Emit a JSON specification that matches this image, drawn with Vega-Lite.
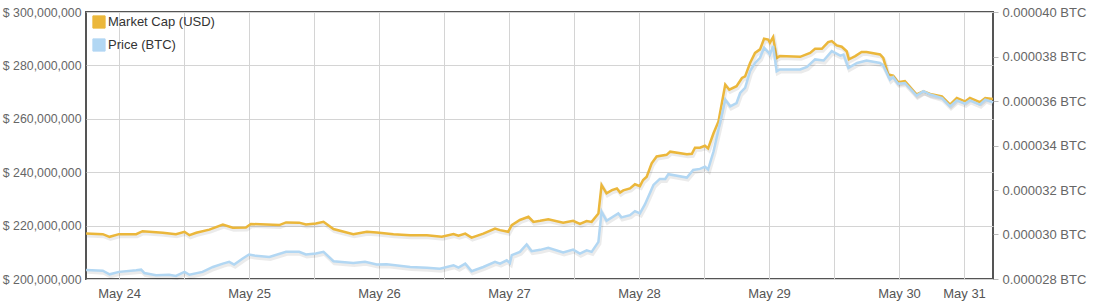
{
  "$schema": "https://vega.github.io/schema/vega-lite/v6.json",
  "width": 907,
  "height": 267,
  "autosize": "none",
  "padding": {"left": 86, "top": 12, "right": 113, "bottom": 23},
  "background": "white",
  "config": {
    "view": {"stroke": "#555555", "strokeWidth": 2},
    "font": "Liberation Sans",
    "axis": {"labelFont": "Liberation Sans", "labelFontSize": 13, "labelColor": "#666666", "domain": false, "gridColor": "#d4d4d4", "gridWidth": 1}
  },
  "datasets": {
    "usd": [
      {"t": "2014-05-23T17:55:00Z", "v": 217000000},
      {"t": "2014-05-23T21:00:00Z", "v": 216800000},
      {"t": "2014-05-23T22:15:00Z", "v": 215800000},
      {"t": "2014-05-24T00:00:00Z", "v": 216800000},
      {"t": "2014-05-24T03:10:00Z", "v": 216800000},
      {"t": "2014-05-24T04:20:00Z", "v": 217900000},
      {"t": "2014-05-24T08:05:00Z", "v": 217300000},
      {"t": "2014-05-24T10:30:00Z", "v": 216800000},
      {"t": "2014-05-24T12:05:00Z", "v": 217700000},
      {"t": "2014-05-24T13:00:00Z", "v": 216400000},
      {"t": "2014-05-24T14:15:00Z", "v": 217300000},
      {"t": "2014-05-24T16:40:00Z", "v": 218500000},
      {"t": "2014-05-24T19:10:00Z", "v": 220400000},
      {"t": "2014-05-24T21:00:00Z", "v": 219200000},
      {"t": "2014-05-24T23:25:00Z", "v": 219300000},
      {"t": "2014-05-25T00:20:00Z", "v": 220600000},
      {"t": "2014-05-25T05:35:00Z", "v": 220200000},
      {"t": "2014-05-25T06:50:00Z", "v": 221200000},
      {"t": "2014-05-25T09:15:00Z", "v": 221100000},
      {"t": "2014-05-25T10:30:00Z", "v": 220400000},
      {"t": "2014-05-25T12:20:00Z", "v": 220800000},
      {"t": "2014-05-25T13:45:00Z", "v": 221400000},
      {"t": "2014-05-25T15:35:00Z", "v": 218700000},
      {"t": "2014-05-25T19:15:00Z", "v": 216800000},
      {"t": "2014-05-25T21:45:00Z", "v": 217700000},
      {"t": "2014-05-25T23:35:00Z", "v": 217400000},
      {"t": "2014-05-26T02:40:00Z", "v": 216800000},
      {"t": "2014-05-26T05:45:00Z", "v": 216400000},
      {"t": "2014-05-26T08:50:00Z", "v": 216400000},
      {"t": "2014-05-26T11:35:00Z", "v": 215800000},
      {"t": "2014-05-26T13:45:00Z", "v": 216800000},
      {"t": "2014-05-26T14:40:00Z", "v": 216200000},
      {"t": "2014-05-26T15:55:00Z", "v": 217000000},
      {"t": "2014-05-26T17:05:00Z", "v": 215500000},
      {"t": "2014-05-26T19:15:00Z", "v": 217000000},
      {"t": "2014-05-26T21:25:00Z", "v": 218900000},
      {"t": "2014-05-26T22:20:00Z", "v": 218300000},
      {"t": "2014-05-26T23:50:00Z", "v": 217700000},
      {"t": "2014-05-27T00:30:00Z", "v": 220200000},
      {"t": "2014-05-27T02:00:00Z", "v": 222100000},
      {"t": "2014-05-27T03:35:00Z", "v": 223300000},
      {"t": "2014-05-27T04:30:00Z", "v": 221400000},
      {"t": "2014-05-27T05:45:00Z", "v": 221800000},
      {"t": "2014-05-27T07:15:00Z", "v": 222400000},
      {"t": "2014-05-27T10:00:00Z", "v": 221100000},
      {"t": "2014-05-27T11:50:00Z", "v": 221800000},
      {"t": "2014-05-27T13:05:00Z", "v": 220600000},
      {"t": "2014-05-27T14:20:00Z", "v": 221700000},
      {"t": "2014-05-27T15:15:00Z", "v": 221400000},
      {"t": "2014-05-27T16:30:00Z", "v": 224500000},
      {"t": "2014-05-27T17:05:00Z", "v": 235200000},
      {"t": "2014-05-27T18:00:00Z", "v": 232100000},
      {"t": "2014-05-27T19:00:00Z", "v": 233300000},
      {"t": "2014-05-27T19:55:00Z", "v": 233900000},
      {"t": "2014-05-27T20:30:00Z", "v": 232400000},
      {"t": "2014-05-27T21:05:00Z", "v": 233200000},
      {"t": "2014-05-27T22:20:00Z", "v": 233900000},
      {"t": "2014-05-27T23:15:00Z", "v": 235500000},
      {"t": "2014-05-28T00:10:00Z", "v": 234800000},
      {"t": "2014-05-28T00:45:00Z", "v": 237100000},
      {"t": "2014-05-28T01:25:00Z", "v": 238300000},
      {"t": "2014-05-28T02:20:00Z", "v": 243300000},
      {"t": "2014-05-28T03:15:00Z", "v": 245900000},
      {"t": "2014-05-28T05:05:00Z", "v": 246500000},
      {"t": "2014-05-28T05:45:00Z", "v": 247700000},
      {"t": "2014-05-28T08:50:00Z", "v": 246700000},
      {"t": "2014-05-28T09:45:00Z", "v": 246900000},
      {"t": "2014-05-28T10:20:00Z", "v": 249200000},
      {"t": "2014-05-28T11:15:00Z", "v": 249200000},
      {"t": "2014-05-28T12:10:00Z", "v": 249900000},
      {"t": "2014-05-28T12:45:00Z", "v": 248900000},
      {"t": "2014-05-28T13:45:00Z", "v": 254600000},
      {"t": "2014-05-28T14:40:00Z", "v": 259000000},
      {"t": "2014-05-28T15:55:00Z", "v": 272800000},
      {"t": "2014-05-28T16:40:00Z", "v": 270900000},
      {"t": "2014-05-28T18:00:00Z", "v": 272200000},
      {"t": "2014-05-28T19:00:00Z", "v": 275300000},
      {"t": "2014-05-28T19:35:00Z", "v": 275900000},
      {"t": "2014-05-28T20:30:00Z", "v": 280900000},
      {"t": "2014-05-28T21:25:00Z", "v": 284700000},
      {"t": "2014-05-28T22:20:00Z", "v": 286000000},
      {"t": "2014-05-28T23:05:00Z", "v": 290000000},
      {"t": "2014-05-28T23:50:00Z", "v": 289700000},
      {"t": "2014-05-29T00:10:00Z", "v": 288500000},
      {"t": "2014-05-29T00:45:00Z", "v": 290600000},
      {"t": "2014-05-29T01:25:00Z", "v": 282800000},
      {"t": "2014-05-29T02:00:00Z", "v": 283500000},
      {"t": "2014-05-29T05:45:00Z", "v": 283200000},
      {"t": "2014-05-29T07:35:00Z", "v": 284700000},
      {"t": "2014-05-29T08:30:00Z", "v": 286200000},
      {"t": "2014-05-29T09:45:00Z", "v": 286200000},
      {"t": "2014-05-29T10:55:00Z", "v": 288700000},
      {"t": "2014-05-29T11:35:00Z", "v": 289100000},
      {"t": "2014-05-29T12:30:00Z", "v": 287500000},
      {"t": "2014-05-29T13:25:00Z", "v": 287000000},
      {"t": "2014-05-29T14:20:00Z", "v": 285300000},
      {"t": "2014-05-29T14:45:00Z", "v": 282300000},
      {"t": "2014-05-29T15:55:00Z", "v": 283500000},
      {"t": "2014-05-29T17:05:00Z", "v": 285000000},
      {"t": "2014-05-29T18:00:00Z", "v": 285000000},
      {"t": "2014-05-29T20:30:00Z", "v": 284100000},
      {"t": "2014-05-29T21:05:00Z", "v": 282800000},
      {"t": "2014-05-29T22:00:00Z", "v": 276600000},
      {"t": "2014-05-29T22:55:00Z", "v": 276200000},
      {"t": "2014-05-29T23:50:00Z", "v": 273700000},
      {"t": "2014-05-30T01:05:00Z", "v": 274100000},
      {"t": "2014-05-30T03:15:00Z", "v": 269100000},
      {"t": "2014-05-30T04:30:00Z", "v": 270300000},
      {"t": "2014-05-30T05:45:00Z", "v": 269300000},
      {"t": "2014-05-30T07:55:00Z", "v": 268400000},
      {"t": "2014-05-30T09:25:00Z", "v": 265300000},
      {"t": "2014-05-30T10:40:00Z", "v": 267800000},
      {"t": "2014-05-30T12:10:00Z", "v": 266500000},
      {"t": "2014-05-30T13:05:00Z", "v": 267800000},
      {"t": "2014-05-30T14:55:00Z", "v": 266200000},
      {"t": "2014-05-30T15:55:00Z", "v": 267800000},
      {"t": "2014-05-30T17:20:00Z", "v": 267400000}
    ],
    "btc": [
      {"t": "2014-05-23T17:55:00Z", "v": 0.00002841},
      {"t": "2014-05-23T21:00:00Z", "v": 0.00002837},
      {"t": "2014-05-23T22:15:00Z", "v": 0.00002821},
      {"t": "2014-05-24T00:00:00Z", "v": 0.00002832},
      {"t": "2014-05-24T03:10:00Z", "v": 0.00002839},
      {"t": "2014-05-24T04:05:00Z", "v": 0.00002842},
      {"t": "2014-05-24T04:40:00Z", "v": 0.00002827},
      {"t": "2014-05-24T06:50:00Z", "v": 0.00002817},
      {"t": "2014-05-24T09:15:00Z", "v": 0.00002819},
      {"t": "2014-05-24T10:30:00Z", "v": 0.00002814},
      {"t": "2014-05-24T12:05:00Z", "v": 0.00002832},
      {"t": "2014-05-24T13:00:00Z", "v": 0.00002819},
      {"t": "2014-05-24T15:25:00Z", "v": 0.00002832},
      {"t": "2014-05-24T17:20:00Z", "v": 0.00002854},
      {"t": "2014-05-24T19:10:00Z", "v": 0.00002869},
      {"t": "2014-05-24T20:20:00Z", "v": 0.00002877},
      {"t": "2014-05-24T21:15:00Z", "v": 0.00002865},
      {"t": "2014-05-24T22:50:00Z", "v": 0.00002892},
      {"t": "2014-05-25T00:00:00Z", "v": 0.0000291},
      {"t": "2014-05-25T01:15:00Z", "v": 0.00002904},
      {"t": "2014-05-25T03:45:00Z", "v": 0.00002899},
      {"t": "2014-05-25T06:50:00Z", "v": 0.00002922},
      {"t": "2014-05-25T09:15:00Z", "v": 0.00002922},
      {"t": "2014-05-25T10:30:00Z", "v": 0.0000291},
      {"t": "2014-05-25T12:20:00Z", "v": 0.00002915},
      {"t": "2014-05-25T13:45:00Z", "v": 0.00002922},
      {"t": "2014-05-25T15:35:00Z", "v": 0.0000288},
      {"t": "2014-05-25T19:15:00Z", "v": 0.00002872},
      {"t": "2014-05-25T21:25:00Z", "v": 0.00002877},
      {"t": "2014-05-25T23:35:00Z", "v": 0.00002865},
      {"t": "2014-05-26T01:25:00Z", "v": 0.00002866},
      {"t": "2014-05-26T05:45:00Z", "v": 0.00002854},
      {"t": "2014-05-26T08:50:00Z", "v": 0.00002851},
      {"t": "2014-05-26T11:15:00Z", "v": 0.00002846},
      {"t": "2014-05-26T13:45:00Z", "v": 0.00002862},
      {"t": "2014-05-26T14:40:00Z", "v": 0.00002851},
      {"t": "2014-05-26T15:55:00Z", "v": 0.00002869},
      {"t": "2014-05-26T17:05:00Z", "v": 0.00002835},
      {"t": "2014-05-26T19:15:00Z", "v": 0.00002854},
      {"t": "2014-05-26T21:25:00Z", "v": 0.00002877},
      {"t": "2014-05-26T22:20:00Z", "v": 0.00002869},
      {"t": "2014-05-26T23:35:00Z", "v": 0.00002884},
      {"t": "2014-05-27T00:10:00Z", "v": 0.00002872},
      {"t": "2014-05-27T00:30:00Z", "v": 0.00002907},
      {"t": "2014-05-27T02:00:00Z", "v": 0.00002922},
      {"t": "2014-05-27T03:15:00Z", "v": 0.00002955},
      {"t": "2014-05-27T04:10:00Z", "v": 0.00002925},
      {"t": "2014-05-27T05:45:00Z", "v": 0.00002931},
      {"t": "2014-05-27T07:15:00Z", "v": 0.0000294},
      {"t": "2014-05-27T10:00:00Z", "v": 0.00002919},
      {"t": "2014-05-27T11:50:00Z", "v": 0.00002932},
      {"t": "2014-05-27T13:05:00Z", "v": 0.00002914},
      {"t": "2014-05-27T14:20:00Z", "v": 0.00002929},
      {"t": "2014-05-27T15:15:00Z", "v": 0.00002922},
      {"t": "2014-05-27T16:30:00Z", "v": 0.00002967},
      {"t": "2014-05-27T17:05:00Z", "v": 0.00003102},
      {"t": "2014-05-27T18:00:00Z", "v": 0.00003062},
      {"t": "2014-05-27T20:10:00Z", "v": 0.00003095},
      {"t": "2014-05-27T20:45:00Z", "v": 0.00003077},
      {"t": "2014-05-27T22:20:00Z", "v": 0.00003087},
      {"t": "2014-05-27T23:15:00Z", "v": 0.00003105},
      {"t": "2014-05-28T00:10:00Z", "v": 0.00003095},
      {"t": "2014-05-28T01:05:00Z", "v": 0.00003135},
      {"t": "2014-05-28T02:40:00Z", "v": 0.00003223},
      {"t": "2014-05-28T03:50:00Z", "v": 0.0000325},
      {"t": "2014-05-28T04:50:00Z", "v": 0.0000325},
      {"t": "2014-05-28T05:25:00Z", "v": 0.00003271},
      {"t": "2014-05-28T08:50:00Z", "v": 0.00003256},
      {"t": "2014-05-28T10:00:00Z", "v": 0.0000329},
      {"t": "2014-05-28T11:15:00Z", "v": 0.00003295},
      {"t": "2014-05-28T12:10:00Z", "v": 0.00003305},
      {"t": "2014-05-28T12:45:00Z", "v": 0.00003292},
      {"t": "2014-05-28T13:45:00Z", "v": 0.00003373},
      {"t": "2014-05-28T14:40:00Z", "v": 0.00003471},
      {"t": "2014-05-28T15:55:00Z", "v": 0.00003606},
      {"t": "2014-05-28T16:50:00Z", "v": 0.00003576},
      {"t": "2014-05-28T18:00:00Z", "v": 0.00003591},
      {"t": "2014-05-28T18:40:00Z", "v": 0.00003636},
      {"t": "2014-05-28T19:35:00Z", "v": 0.00003659},
      {"t": "2014-05-28T20:30:00Z", "v": 0.00003734},
      {"t": "2014-05-28T21:25:00Z", "v": 0.00003771},
      {"t": "2014-05-28T22:20:00Z", "v": 0.00003794},
      {"t": "2014-05-28T23:05:00Z", "v": 0.00003839},
      {"t": "2014-05-28T23:50:00Z", "v": 0.0000382},
      {"t": "2014-05-29T00:10:00Z", "v": 0.00003809},
      {"t": "2014-05-29T00:45:00Z", "v": 0.00003847},
      {"t": "2014-05-29T01:25:00Z", "v": 0.00003734},
      {"t": "2014-05-29T02:00:00Z", "v": 0.00003742},
      {"t": "2014-05-29T05:45:00Z", "v": 0.00003742},
      {"t": "2014-05-29T07:00:00Z", "v": 0.00003753},
      {"t": "2014-05-29T08:30:00Z", "v": 0.00003787},
      {"t": "2014-05-29T10:05:00Z", "v": 0.00003782},
      {"t": "2014-05-29T11:35:00Z", "v": 0.00003824},
      {"t": "2014-05-29T13:10:00Z", "v": 0.00003804},
      {"t": "2014-05-29T13:45:00Z", "v": 0.00003809},
      {"t": "2014-05-29T14:40:00Z", "v": 0.00003749},
      {"t": "2014-05-29T16:15:00Z", "v": 0.00003771},
      {"t": "2014-05-29T18:00:00Z", "v": 0.00003782},
      {"t": "2014-05-29T20:30:00Z", "v": 0.00003771},
      {"t": "2014-05-29T21:05:00Z", "v": 0.0000376},
      {"t": "2014-05-29T22:20:00Z", "v": 0.00003696},
      {"t": "2014-05-29T22:55:00Z", "v": 0.00003708},
      {"t": "2014-05-29T23:50:00Z", "v": 0.00003678},
      {"t": "2014-05-30T01:05:00Z", "v": 0.00003681},
      {"t": "2014-05-30T03:15:00Z", "v": 0.00003624},
      {"t": "2014-05-30T04:30:00Z", "v": 0.00003644},
      {"t": "2014-05-30T05:45:00Z", "v": 0.00003629},
      {"t": "2014-05-30T07:55:00Z", "v": 0.00003613},
      {"t": "2014-05-30T09:25:00Z", "v": 0.00003576},
      {"t": "2014-05-30T10:40:00Z", "v": 0.00003603},
      {"t": "2014-05-30T12:10:00Z", "v": 0.00003588},
      {"t": "2014-05-30T13:05:00Z", "v": 0.00003603},
      {"t": "2014-05-30T14:55:00Z", "v": 0.00003584},
      {"t": "2014-05-30T15:55:00Z", "v": 0.00003606},
      {"t": "2014-05-30T17:20:00Z", "v": 0.00003594}
    ]
  },
  "encoding": {
    "x": {
      "field": "t",
      "type": "temporal",
      "scale": {
        "type": "utc",
        "domain": [
          {"year": 2014, "month": 5, "date": 23, "hours": 17, "minutes": 54, "utc": true},
          {"year": 2014, "month": 5, "date": 30, "hours": 17, "minutes": 21, "utc": true}
        ]
      },
      "axis": {
        "title": null,
        "ticks": false,
        "grid": true,
        "labelPadding": 8,
        "labelOverlap": false,
        "labelFlush": false,
        "labelColor": "#555555",
        "values": [
          {"year": 2014, "month": 5, "date": 24, "hours": 0, "utc": true},
          {"year": 2014, "month": 5, "date": 24, "hours": 12, "utc": true},
          {"year": 2014, "month": 5, "date": 25, "hours": 0, "utc": true},
          {"year": 2014, "month": 5, "date": 25, "hours": 12, "utc": true},
          {"year": 2014, "month": 5, "date": 26, "hours": 0, "utc": true},
          {"year": 2014, "month": 5, "date": 26, "hours": 12, "utc": true},
          {"year": 2014, "month": 5, "date": 27, "hours": 0, "utc": true},
          {"year": 2014, "month": 5, "date": 27, "hours": 12, "utc": true},
          {"year": 2014, "month": 5, "date": 28, "hours": 0, "utc": true},
          {"year": 2014, "month": 5, "date": 28, "hours": 12, "utc": true},
          {"year": 2014, "month": 5, "date": 29, "hours": 0, "utc": true},
          {"year": 2014, "month": 5, "date": 29, "hours": 12, "utc": true},
          {"year": 2014, "month": 5, "date": 30, "hours": 0, "utc": true},
          {"year": 2014, "month": 5, "date": 30, "hours": 12, "utc": true}
        ],
        "labelExpr": "utchours(datum.value) == 12 && utcdate(datum.value) == 30 ? 'May 31' : (utchours(datum.value) == 0 ? utcFormat(datum.value, '%b %d') : '')"
      }
    }
  },
  "layer": [
    {
      "data": {"name": "usd"},
      "encoding": {
        "y": {
          "field": "v",
          "type": "quantitative",
          "scale": {"domain": [200000000, 300000000], "nice": false, "zero": false},
          "axis": {
            "orient": "left",
            "title": null,
            "ticks": false,
            "grid": true,
            "labelPadding": 5,
            "labelFontSize": 12.3,
            "values": [200000000, 220000000, 240000000, 260000000, 280000000, 300000000],
            "labelExpr": "'$ ' + format(datum.value, ',')"
          }
        }
      },
      "layer": [
        {"mark": {"type": "line", "color": "#000000", "opacity": 0.08, "strokeWidth": 4, "yOffset": 2, "xOffset": 1}},
        {
          "mark": {"type": "line", "strokeWidth": 2.5},
          "encoding": {
            "color": {
              "datum": "Market Cap (USD)",
              "scale": {"domain": ["Market Cap (USD)", "Price (BTC)"], "range": ["#ebb73b", "#b2d7f3"]},
              "legend": {
                "title": null,
                "orient": "none",
                "direction": "vertical",
                "legendX": 6,
                "legendY": 3,
                "symbolType": "square",
                "symbolSize": 150,
                "labelFont": "Liberation Sans",
                "labelFontSize": 13,
                "labelColor": "#333333",
                "labelOffset": 2,
                "rowPadding": 5,
                "encode": {
                  "symbols": {
                    "update": {
                      "fill": {"scale": "color", "field": "value"},
                      "stroke": {"value": "#999999"},
                      "strokeWidth": {"value": 1},
                      "opacity": {"value": 1}
                    }
                  }
                }
              }
            }
          }
        }
      ]
    },
    {
      "data": {"name": "btc"},
      "encoding": {
        "y": {
          "field": "v",
          "type": "quantitative",
          "scale": {"domain": [0.000028, 0.00004], "nice": false, "zero": false},
          "axis": {
            "orient": "right",
            "title": null,
            "grid": false,
            "ticks": true,
            "tickSize": 5,
            "tickColor": "#bbbbbb",
            "labelPadding": 4,
            "values": [0.000028, 0.00003, 0.000032, 0.000034, 0.000036, 0.000038, 0.00004],
            "labelExpr": "format(datum.value, '.6f') + ' BTC'"
          }
        }
      },
      "layer": [
        {"mark": {"type": "line", "color": "#000000", "opacity": 0.08, "strokeWidth": 4, "yOffset": 2, "xOffset": 1}},
        {
          "mark": {"type": "line", "strokeWidth": 2.5},
          "encoding": {
            "color": {
              "datum": "Price (BTC)",
              "scale": {"domain": ["Market Cap (USD)", "Price (BTC)"], "range": ["#ebb73b", "#b2d7f3"]}
            }
          }
        }
      ]
    }
  ],
  "resolve": {"scale": {"y": "independent"}}
}
